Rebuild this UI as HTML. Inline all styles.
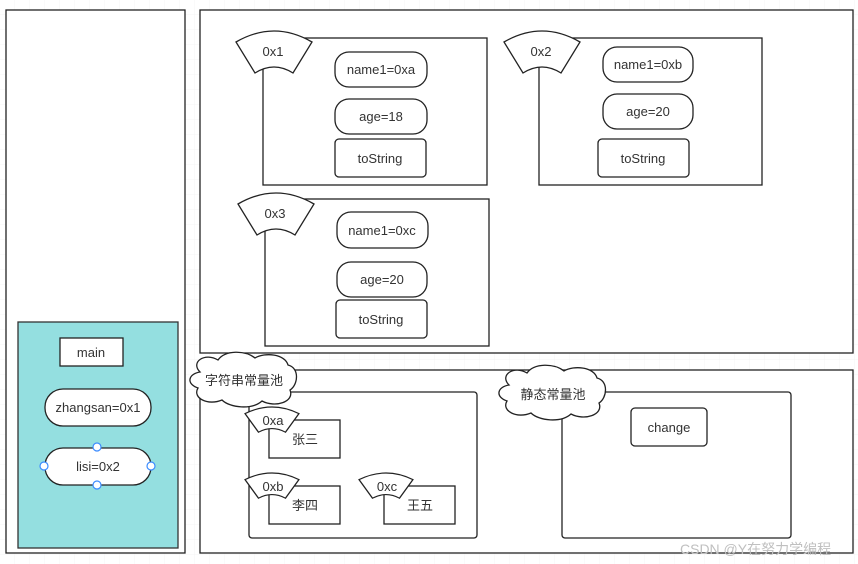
<!DOCTYPE html>
<html><head><meta charset="utf-8"><style>
html,body{margin:0;padding:0;background:#fff;}
svg{display:block;}
text{font-family:"Liberation Sans","Noto Sans CJK SC",sans-serif;font-size:13px;fill:#333;}
</style></head><body>
<svg width="858" height="564" viewBox="0 0 858 564" xmlns="http://www.w3.org/2000/svg">
<defs>
<pattern id="g" width="15" height="15" patternUnits="userSpaceOnUse"><path d="M15 0V15H0" fill="none" stroke="#f4f4f4" stroke-width="1"/></pattern>
<path id="fan" d="M0,11 Q38,-11 76,11 L57,42 Q38,30 19,42 Z"/>
</defs>
<rect width="858" height="564" fill="url(#g)"/>
<g fill="#fff" stroke="#222" stroke-width="1.3">
<rect x="6" y="10" width="179" height="543"/>
<rect x="18" y="322" width="160" height="226" fill="#94dfe0" stroke="#333"/>
<rect x="60" y="338" width="63" height="28"/>
<rect x="45" y="389" width="106" height="37" rx="18"/>
<rect x="45" y="448" width="106" height="37" rx="18"/>
<rect x="200" y="10" width="653" height="343"/>
<rect x="263" y="38" width="224" height="147"/>
<rect x="539" y="38" width="223" height="147"/>
<rect x="265" y="199" width="224" height="147"/>
<use href="#fan" x="236" y="31"/>
<use href="#fan" x="504" y="31"/>
<use href="#fan" x="238" y="193"/>
<rect x="335" y="52" width="92" height="35" rx="14"/>
<rect x="335" y="99" width="92" height="35" rx="14"/>
<rect x="335" y="139" width="91" height="38" rx="4"/>
<rect x="603" y="47" width="90" height="35" rx="14"/>
<rect x="603" y="94" width="90" height="35" rx="14"/>
<rect x="598" y="139" width="91" height="38" rx="4"/>
<rect x="337" y="212" width="91" height="36" rx="14"/>
<rect x="337" y="262" width="90" height="35" rx="14"/>
<rect x="336" y="300" width="91" height="38" rx="4"/>
<rect x="200" y="370" width="653" height="183"/>
<rect x="249" y="392" width="228" height="146" rx="3"/>
<rect x="562" y="392" width="229" height="146" rx="3"/>
<rect x="631" y="408" width="76" height="38" rx="4"/>
<rect x="269" y="420" width="71" height="38"/>
<rect x="269" y="486" width="71" height="38"/>
<rect x="384" y="486" width="71" height="38"/>
<use href="#fan" transform="translate(245,407) scale(0.71,0.6)" stroke-width="1.9"/>
<use href="#fan" transform="translate(245,473) scale(0.71,0.6)" stroke-width="1.9"/>
<use href="#fan" transform="translate(359,473) scale(0.71,0.6)" stroke-width="1.9"/>
<path d="M200,372 C190,362 205,352 218,360 C225,350 245,350 255,358 C265,352 285,354 288,365 C300,368 298,385 290,390 C295,402 275,408 262,401 C252,410 230,408 222,400 C208,406 192,398 198,388 C186,384 188,374 200,372 Z"/>
<path d="M509,385 C499,375 514,365 527,373 C534,363 554,363 564,371 C574,365 594,367 597,378 C609,381 607,398 599,403 C604,415 584,421 571,414 C561,423 539,421 531,413 C517,419 501,411 507,401 C495,397 497,387 509,385 Z"/>
</g>
<g fill="#fff" stroke="#3b8cff" stroke-width="1.2">
<circle cx="97" cy="447" r="4"/><circle cx="97" cy="485" r="4"/><circle cx="44" cy="466" r="4"/><circle cx="151" cy="466" r="4"/>
</g>
<g text-anchor="middle">
<text x="91" y="357">main</text>
<text x="98" y="412">zhangsan=0x1</text>
<text x="98" y="471">lisi=0x2</text>
<text x="273" y="56">0x1</text>
<text x="541" y="56">0x2</text>
<text x="275" y="218">0x3</text>
<text x="381" y="74">name1=0xa</text>
<text x="381" y="121">age=18</text>
<text x="380" y="163">toString</text>
<text x="648" y="69">name1=0xb</text>
<text x="648" y="116">age=20</text>
<text x="643" y="163">toString</text>
<text x="382" y="235">name1=0xc</text>
<text x="382" y="284">age=20</text>
<text x="381" y="324">toString</text>
<text x="669" y="432">change</text>
<text x="273" y="425">0xa</text>
<text x="273" y="491">0xb</text>
<text x="387" y="491">0xc</text>
<text x="305" y="444">张三</text>
<text x="305" y="510">李四</text>
<text x="420" y="510">王五</text>
<text x="244" y="385">字符串常量池</text>
<text x="553" y="399">静态常量池</text>
</g>
<text x="680" y="554" style="font-size:14px;fill:#c0c0c0">CSDN @Y在努力学编程</text>
</svg>
</body></html>
